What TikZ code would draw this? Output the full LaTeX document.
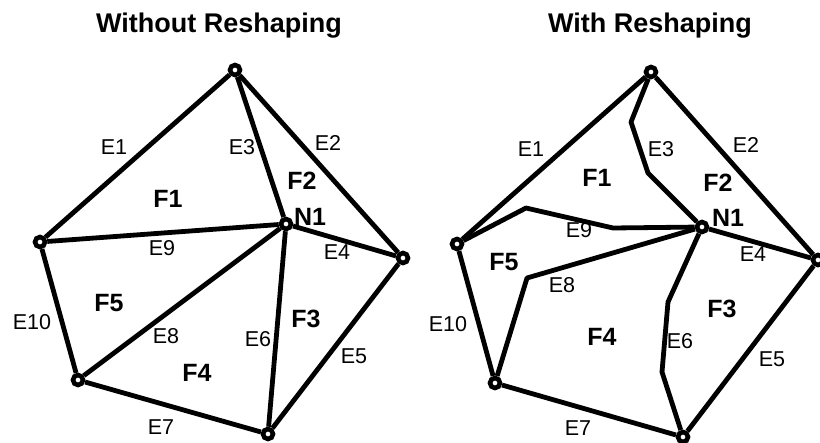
\documentclass[tikz,border=0pt]{standalone}
\usepackage{fontspec}
\setmainfont{Liberation Sans}
\begin{document}
\begin{tikzpicture}[x=1pt,y=-1pt,
  vtx/.style={circle,draw,fill=white,line width=4.6pt,minimum size=10pt,inner sep=0pt},
  edge/.style={line width=4.8pt,line join=round},
  elab/.style={font=\fontsize{21.5}{26}\selectfont,inner sep=0pt},
  flab/.style={font=\fontsize{25}{30}\selectfont\bfseries,inner sep=0pt},
  ttl/.style={font=\fontsize{27}{32}\selectfont\bfseries,inner sep=0pt,anchor=base}]
\useasboundingbox (0,0) rectangle (820,443);

% without reshaping
\node[vtx] (t1) at (235,70) {};
\node[vtx] (l1) at (40,242) {};
\node[vtx] (n1) at (286,224) {};
\node[vtx] (r1) at (403,258) {};
\node[vtx] (bl1) at (78,380) {};
\node[vtx] (b1) at (268,434) {};

\draw[edge] (t1) -- (l1);
\draw[edge] (t1) -- (r1);
\draw[edge] (t1) -- (n1);
\draw[edge] (n1) -- (r1);
\draw[edge] (r1) -- (b1);
\draw[edge] (n1) -- (b1);
\draw[edge] (bl1) -- (b1);
\draw[edge] (n1) -- (bl1);
\draw[edge] (l1) -- (n1);
\draw[edge] (l1) -- (bl1);

\node[ttl] (title1) at (219,33) {Without Reshaping};
\node[elab] (e1a) at (114,147) {E1};
\node[elab] (e2a) at (328,143) {E2};
\node[elab] (e3a) at (242,147) {E3};
\node[elab] (e4a) at (337,252) {E4};
\node[elab] (e5a) at (354,356) {E5};
\node[elab] (e6a) at (258,339) {E6};
\node[elab] (e7a) at (161,427) {E7};
\node[elab] (e8a) at (166,336) {E8};
\node[elab] (e9a) at (162,248) {E9};
\node[elab] (e10a) at (32,322) {E10};
\node[flab] (f1a) at (168,199) {F1};
\node[flab] (f2a) at (302,181) {F2};
\node[flab] (f3a) at (306,319) {F3};
\node[flab] (f4a) at (197,373) {F4};
\node[flab] (f5a) at (109,303) {F5};
\node[flab] (n1a) at (310,217) {N1};

% with reshaping
\node[vtx] (t2) at (651,72) {};
\node[vtx] (l2) at (457,244) {};
\node[vtx] (n2) at (702,227) {};
\node[vtx] (r2) at (818,260) {};
\node[vtx] (bl2) at (495,383) {};
\node[vtx] (b2) at (683,437) {};

\coordinate (c3a) at (631,122);
\coordinate (c3b) at (648,173);
\coordinate (c9a) at (526,208);
\coordinate (c9b) at (613,228);
\coordinate (c8) at (527,278);
\coordinate (c6a) at (668,302);
\coordinate (c6b) at (662,372);

\draw[edge] (t2) -- (l2);
\draw[edge] (t2) -- (r2);
\draw[edge] (t2) -- (c3a) -- (c3b) -- (n2);
\draw[edge] (n2) -- (r2);
\draw[edge] (r2) -- (b2);
\draw[edge] (n2) -- (c6a) -- (c6b) -- (b2);
\draw[edge] (bl2) -- (b2);
\draw[edge] (n2) -- (c8) -- (bl2);
\draw[edge] (l2) -- (c9a) -- (c9b) -- (n2);
\draw[edge] (l2) -- (bl2);

\node[ttl] (title2) at (650,33) {With Reshaping};
\node[elab] (e1b) at (531,149) {E1};
\node[elab] (e2b) at (746,145) {E2};
\node[elab] (e3b) at (661,149) {E3};
\node[elab] (e4b) at (753,254) {E4};
\node[elab] (e5b) at (772,359) {E5};
\node[elab] (e6b) at (680,341) {E6};
\node[elab] (e7b) at (578,428) {E7};
\node[elab] (e8b) at (562,285) {E8};
\node[elab] (e9b) at (579,230) {E9};
\node[elab] (e10b) at (448,324) {E10};
\node[flab] (f1b) at (597,178) {F1};
\node[flab] (f2b) at (718,183) {F2};
\node[flab] (f3b) at (722,309) {F3};
\node[flab] (f4b) at (602,337) {F4};
\node[flab] (f5b) at (504,262) {F5};
\node[flab] (n1b) at (728,218) {N1};
\end{tikzpicture}
\end{document}
